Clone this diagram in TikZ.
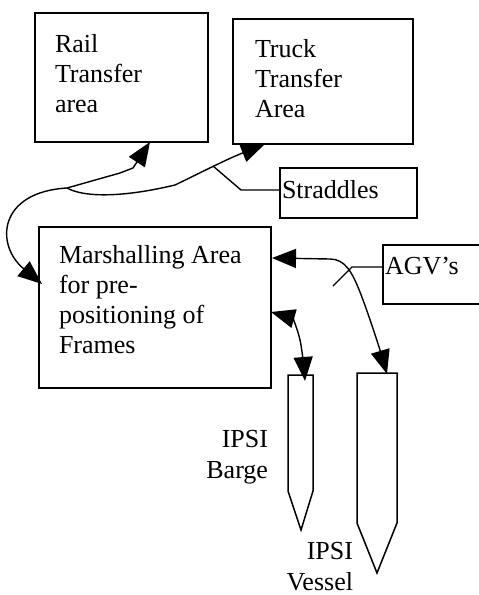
\documentclass[tikz,border=0pt]{standalone}
\usepackage{fontspec}
\setmainfont{Liberation Serif}
\usetikzlibrary{arrows.meta,calc}
\tikzset{
  boxnode/.style={draw,line width=1.5pt,rectangle,inner sep=0pt,outer sep=0pt},
  plainnode/.style={rectangle,inner sep=0pt,outer sep=0pt},
  txt/.style={inner sep=0pt,outer sep=0pt,font=\fontsize{26}{30}\selectfont},
  conn/.style={line width=1.4pt,line join=round},
  tipboth/.style={{Triangle[length=24pt,width=19pt]}-{Triangle[length=24pt,width=19pt]}},
  tipend/.style={-{Triangle[length=24pt,width=19pt]}},
  hull/.style={line width=1.5pt,line join=miter}
}
\begin{document}
\begin{tikzpicture}[x=1pt,y=-1pt]
\useasboundingbox (0,0) rectangle (479,595);
% boxes
\node[boxnode,minimum width=173pt,minimum height=129pt] (rail) at (121.5,77.5) {};
\node[boxnode,minimum width=180pt,minimum height=125pt] (truck) at (323,81.5) {};
\node[boxnode,minimum width=137pt,minimum height=50pt] (straddles) at (348.5,193) {};
\node[boxnode,minimum width=232pt,minimum height=161pt] (marsh) at (155,307.5) {};
\node[plainnode,minimum width=96pt,minimum height=59pt] (agv) at (431,274.5) {};
\draw[line width=1.5pt] (agv.north east) -- (agv.north west) -- (agv.south west) -- (agv.south east);
% texts
\node[txt,align=left,anchor=north west] (railtxt) at (55,34.4) {Rail\\Transfer\\area};
\node[txt,align=left,anchor=north west] (trucktxt) at (255,39.4) {Truck\\Transfer\\Area};
\node[txt,align=left,anchor=north west] (stxt) at (282,180.4) {Straddles};
\node[txt,align=left,anchor=north west] (marshtxt) at (59,245.4) {Marshalling Area\\for pre-\\positioning of\\Frames};
\node[txt,align=left,anchor=north west] (agvtxt) at (385,257.6) {AGV’s};
\node[txt,align=right,anchor=north east,font=\fontsize{26}{31}\selectfont] (bargetxt) at (268,429.8) {IPSI\\Barge};
\node[txt,align=right,anchor=north east,font=\fontsize{26}{31}\selectfont] (vesseltxt) at (353,542.3) {IPSI\\Vessel};
% hulls
\coordinate (barge) at (300.5,375);
\coordinate (vessel) at (377,373);
\draw[hull] ($(barge)+(-12.5,0)$) -- ++(25,0) -- ++(0,116) -- ($(barge)+(0.5,155)$) -- ($(barge)+(-12.5,116)$) -- cycle;
\draw[hull] ($(vessel)+(-20,0)$) -- ++(40,0) -- ++(0,150) -- ($(vessel)+(0,200)$) -- ($(vessel)+(-20,150)$) -- cycle;
% junction points
\coordinate (junc) at (67,188);
\coordinate (strpt) at (213,166);
\coordinate (agvpt) at (333,286);
% connectors
\draw[conn,tipboth] ($(rail.south)+(28.5,0)$) -- (133,168) -- (120,173) -- (junc)
   .. controls (-2,192) and (-5,245) .. ($(marsh.west)+(3,-23.5)$);
\draw[conn,tipend] (junc) .. controls (85,198) and (125,197) .. (175,185)
   .. controls (200,173) and (225,160) .. ($(truck.south)+(-58,0)$);
\draw[conn] ($(straddles.west)+(0,-3)$) -- (241,190) -- (strpt);
\draw[conn] ($(agv.west)+(0,-7.5)$) -- (352,267) -- (agvpt);
\draw[conn,tipboth] ($(marsh.east)+(1,-49.5)$) -- (330,259)
   .. controls (345,259) and (352,272) .. (360,292)
   .. controls (370,318) and (380,350) .. ($(vessel)+(10,1)$);
\draw[conn,tipboth] ($(marsh.east)+(0,4.5)$) .. controls (292,318) and (298,328) .. (301,345)
   .. controls (303,358) and (304,368) .. ($(barge)+(4.5,6)$);
\end{tikzpicture}
\end{document}
